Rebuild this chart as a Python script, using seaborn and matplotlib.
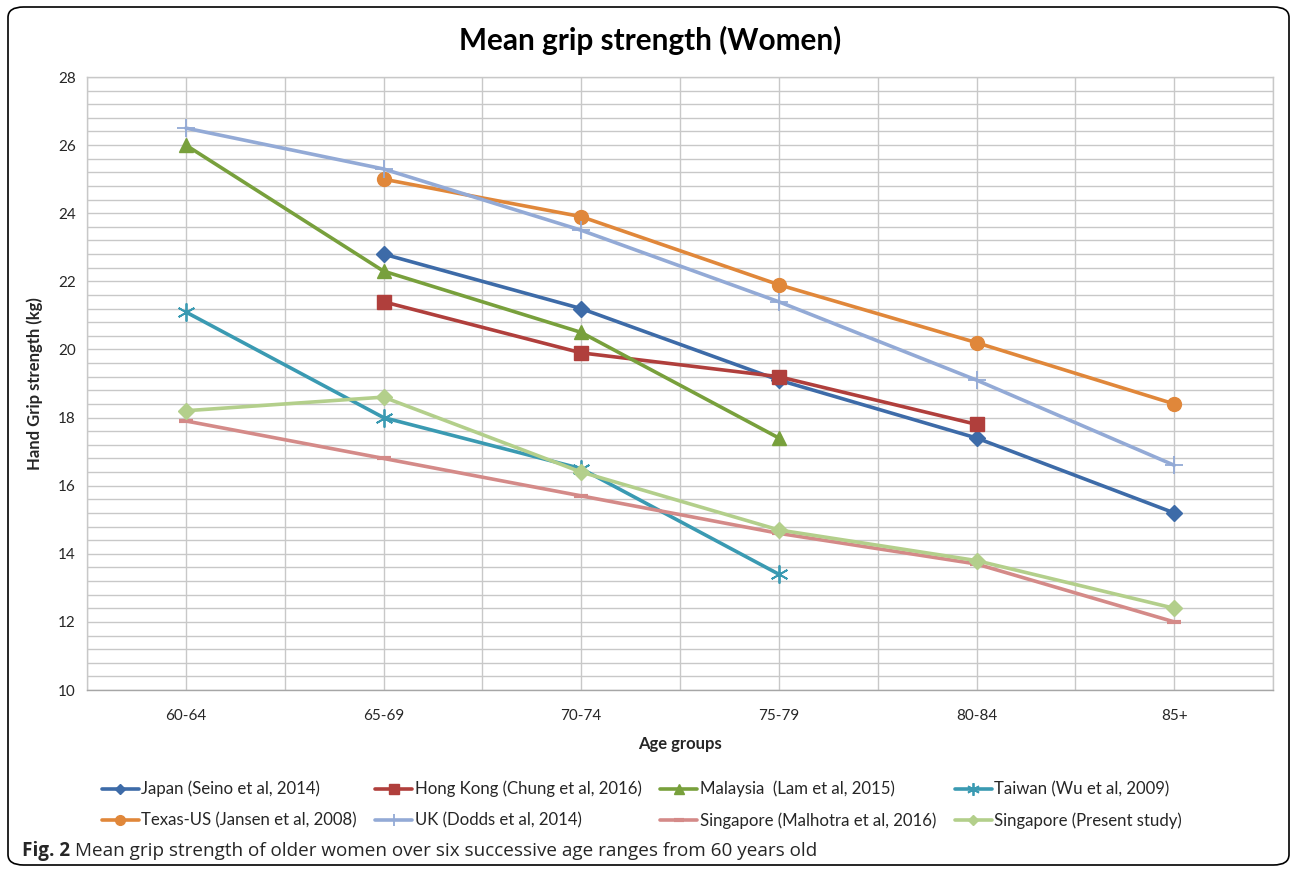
import numpy as np
import pandas as pd
import matplotlib
matplotlib.use("Agg")
import matplotlib.pyplot as plt
import seaborn as sns
from matplotlib.patches import FancyBboxPatch

age_groups = ["60-64", "65-69", "70-74", "75-79", "80-84", "85+"]
nan = np.nan
japan = [nan, 22.8, 21.2, 19.1, 17.4, 15.2]
hong_kong = [nan, 21.4, 19.9, 19.2, 17.8, nan]
malaysia = [26.0, 22.3, 20.5, 17.4, nan, nan]
taiwan = [21.1, 18.0, 16.5, 13.4, nan, nan]
texas = [nan, 25.0, 23.9, 21.9, 20.2, 18.4]
uk = [26.5, 25.3, 23.5, 21.4, 19.1, 16.6]
sg_malhotra = [17.9, 16.8, 15.7, 14.6, 13.7, 12.0]
sg_present = [18.2, 18.6, 16.4, 14.7, 13.8, 12.4]

series_names = [
    "Japan (Seino et al, 2014)", "Hong Kong (Chung et al, 2016)",
    "Malaysia  (Lam et al, 2015)", "Taiwan (Wu et al, 2009)",
    "Texas-US (Jansen et al, 2008)", "UK (Dodds et al, 2014)",
    "Singapore (Malhotra et al, 2016)", "Singapore (Present study)",
]
series_values = [japan, hong_kong, malaysia, taiwan, texas, uk, sg_malhotra, sg_present]

colors = ["#3D6BA8", "#B03F3C", "#78A03C", "#3A9AB2", "#E0873A", "#93AAD6", "#D48A88", "#B3CF8B"]
markers = ["D", "s", "^", (6, 2, 0), "o", "+", "_", "D"]
msizes = [8, 10, 10, 13, 10, 13, 10, 8]
mews = [1, 1, 1, 1.3, 1, 1.3, 3, 1]

sns.set_theme(style="white")
plt.rcParams["font.family"] = ["Lato", "DejaVu Sans"]

fig = plt.figure(figsize=(12.95, 8.73), dpi=100)
ax = fig.add_axes([87 / 1295, 1 - 690 / 873, (1273 - 87) / 1295, (690 - 77) / 873])

xpos = np.arange(len(age_groups))
for name, vals, c, m, ms, mew in zip(series_names, series_values, colors, markers, msizes, mews):
    df = pd.DataFrame({"x": xpos, "y": vals}).dropna()
    sns.lineplot(data=df, x="x", y="y", ax=ax, color=c, marker=m, markersize=ms,
                 markeredgecolor=c, markerfacecolor=c, markeredgewidth=mew,
                 linewidth=2.6, label=name, legend=False, zorder=3)

ax.set_xlim(-0.5, 5.5)
ax.set_ylim(10, 28)
ax.set_xticks(xpos)
ax.set_xticklabels(age_groups)
ax.set_xticks(np.arange(-0.5, 5.6, 1.0), minor=True)
ax.set_yticks(np.arange(10, 28.1, 2))
ax.set_yticks(np.arange(10, 28.1, 0.4), minor=True)
gc = "#C8C8C8"
ax.grid(True, which="both", color=gc, linewidth=1.0)
ax.set_axisbelow(True)
for s in ax.spines.values():
    s.set_color(gc)
    s.set_linewidth(1.0)
ax.spines["bottom"].set_color("#A6A6A6")
ax.tick_params(axis="both", which="both", length=0, labelsize=11, colors="#262626")
ax.tick_params(axis="x", pad=14)
ax.tick_params(axis="y", pad=8)
ax.set_xlabel("Age groups", fontsize=12, fontweight="bold", labelpad=9)
ax.set_ylabel("Hand Grip strength (kg)", fontsize=12, fontweight="bold", labelpad=11)

fig.text(650 / 1295, 1 - 40 / 873, "Mean grip strength (Women)", ha="center", va="center",
         fontsize=21.4, fontweight="bold", color="#000000")

handles, labels = ax.get_legend_handles_labels()
order = [0, 4, 1, 5, 2, 6, 3, 7]
fig.legend([handles[i] for i in order], [labels[i] for i in order], ncol=4, loc="center left",
           bbox_to_anchor=(90 / 1295, 1 - 805 / 873), frameon=False, fontsize=12.1,
           handlelength=2.2, handletextpad=0.15, columnspacing=1.1, labelspacing=0.9,
           markerscale=0.7, borderpad=0.2)

# rounded outer frame
frame = FancyBboxPatch((8 / 1295, 8 / 873), (1289 - 8) / 1295, (866 - 8) / 873,
                       boxstyle="round,pad=0,rounding_size=0.012", transform=fig.transFigure,
                       fill=False, edgecolor="black", linewidth=1.2)
fig.patches.append(frame)

cap_y = 1 - 851 / 873
t1 = fig.text(22 / 1295, cap_y, "Fig. 2", fontsize=13.6, fontweight="bold", va="center",
              family=["Open Sans", "DejaVu Sans"])
fig.canvas.draw()
bb = t1.get_window_extent(renderer=fig.canvas.get_renderer())
fig.text((bb.x1 + 5) / 1295, cap_y, "Mean grip strength of older women over six successive age ranges from 60 years old",
         fontsize=13.6, va="center", family=["Open Sans", "DejaVu Sans"])

fig.savefig("out.png", dpi=100)
